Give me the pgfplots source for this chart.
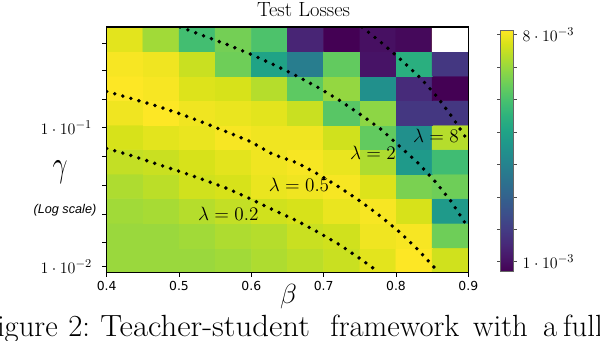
\documentclass[border=0pt]{standalone}
\usepackage{fontspec}
\usepackage{pgfplots}
\usepackage{pgfplotstable}
\pgfplotsset{compat=1.18}
\newfontfamily\dejavu{DejaVu Sans}
\newfontfamily\libsans{Liberation Sans}

% test loss per cell, in units of 1e-3; rows bottom to top, beta left to right
\pgfplotstableread{
x y c
0.425 -1.9521 7.03
0.475 -1.9521 7.03
0.525 -1.9521 7.03
0.575 -1.9521 7.11
0.625 -1.9521 7.25
0.675 -1.9521 7.40
0.725 -1.9521 7.55
0.775 -1.9521 7.85
0.825 -1.9521 8.15
0.875 -1.9521 7.63
0.425 -1.7757 7.03
0.475 -1.7757 7.03
0.525 -1.7757 7.11
0.575 -1.7757 7.25
0.625 -1.7757 7.33
0.675 -1.7757 7.55
0.725 -1.7757 7.63
0.775 -1.7757 8.00
0.825 -1.7757 8.08
0.875 -1.7757 6.51
0.425 -1.5992 7.11
0.475 -1.5992 7.18
0.525 -1.5992 7.33
0.575 -1.5992 7.48
0.625 -1.5992 7.63
0.675 -1.5992 7.70
0.725 -1.5992 7.93
0.775 -1.5992 8.08
0.825 -1.5992 7.70
0.875 -1.5992 4.72
0.425 -1.4228 7.25
0.475 -1.4228 7.40
0.525 -1.4228 7.63
0.575 -1.4228 7.70
0.625 -1.4228 7.93
0.675 -1.4228 8.00
0.725 -1.4228 8.08
0.775 -1.4228 7.78
0.825 -1.4228 6.66
0.875 -1.4228 6.51
0.425 -1.2464 7.48
0.475 -1.2464 7.55
0.525 -1.2464 7.70
0.575 -1.2464 7.85
0.625 -1.2464 8.00
0.675 -1.2464 8.08
0.725 -1.2464 7.93
0.775 -1.2464 7.25
0.825 -1.2464 4.72
0.875 -1.2464 5.84
0.425 -1.0699 7.70
0.475 -1.0699 7.85
0.525 -1.0699 7.93
0.575 -1.0699 8.08
0.625 -1.0699 8.00
0.675 -1.0699 8.00
0.725 -1.0699 7.63
0.775 -1.0699 6.36
0.825 -1.0699 4.42
0.875 -1.0699 7.33
0.425 -0.8935 8.00
0.475 -0.8935 8.15
0.525 -0.8935 8.00
0.575 -0.8935 7.93
0.625 -0.8935 7.85
0.675 -0.8935 7.55
0.725 -0.8935 6.21
0.775 -0.8935 6.88
0.825 -0.8935 1.88
0.875 -0.8935 1.88
0.425 -0.7171 8.15
0.475 -0.7171 8.08
0.525 -0.7171 7.78
0.575 -0.7171 7.70
0.625 -0.7171 7.33
0.675 -0.7171 6.29
0.725 -0.7171 6.96
0.775 -0.7171 4.42
0.825 -0.7171 1.59
0.875 -0.7171 0.69
0.425 -0.5406 8.08
0.475 -0.5406 8.00
0.525 -0.5406 7.55
0.575 -0.5406 6.51
0.625 -0.5406 5.02
0.675 -0.5406 3.82
0.725 -0.5406 6.36
0.775 -0.5406 1.06
0.825 -0.5406 5.39
0.875 -0.5406 1.88
0.425 -0.3642 7.85
0.475 -0.3642 7.11
0.525 -0.3642 5.91
0.575 -0.3642 6.58
0.625 -0.3642 6.06
0.675 -0.3642 1.44
0.725 -0.3642 0.69
0.775 -0.3642 0.99
0.825 -0.3642 0.84
0.875 -0.3642 8.15
}\losses

\pgfplotsset{lam/.style={black,no markers,line width=2.9pt,line cap=round,dash pattern=on 0pt off 6.28pt}}

\begin{document}
\begin{tikzpicture}
\begin{axis}[at={(0,0)},anchor=south west,scale only axis,width=271.2pt,height=184pt,
  xmin=0.4,xmax=0.9,ymin=-2.0403,ymax=-0.276,enlargelimits=false,axis on top,
  xtick={0.4,0.5,0.6,0.7,0.8,0.9},xticklabels={0.4,0.5,0.6,0.7,0.8,0.9},
  xticklabel style={font=\dejavu\fontsize{9.3}{10}\selectfont},
  ytick={-2,-1},yticklabels={$1\cdot10^{-2}$,$1\cdot10^{-1}$},
  minor ytick={-1.824,-1.621,-1.417,-1.209,-0.794,-0.590,-0.393},
  yticklabel style={font=\fontsize{12.5}{13}\selectfont,xshift=-4pt},
  tick pos=left,tick align=outside,major tick length=3.5pt,minor tick length=3.5pt,
  tick style={black,line width=0.6pt},
  axis line style={line width=0.8pt},
  colormap/viridis,point meta min=0.69,point meta max=8.15,
  colorbar,
  colorbar style={at={(parent axis.north east)},anchor=north west,xshift=15.75pt,yshift=-2.25pt,
    width=9.5pt,height=181.3pt,
    ytick={1,2,3,4,5,6,7,8},yticklabels={$1\cdot10^{-3}$,{},{},{},{},{},{},$8\cdot10^{-3}$},
    yticklabel style={font=\fontsize{12.5}{13}\selectfont,xshift=1pt},
    tick align=outside,major tick length=2.5pt,tick style={black!70,line width=0.5pt},
    axis line style={black!60,line width=0.5pt}},
]
\addplot[matrix plot*,mesh/cols=10,mesh/rows=10,point meta=explicit,draw=none,forget plot] table[x=x,y=y,meta=c] {\losses};
% missing run, left blank
\addplot[fill=white,draw=none,no markers,forget plot] coordinates {(0.85,-0.4524) (0.9,-0.4524) (0.9,-0.276) (0.85,-0.276)} --cycle;

% lambda = 8
\addplot[lam] coordinates {(0.7530,-0.276) (0.7825,-0.400) (0.8087,-0.520) (0.8342,-0.6446) (0.8571,-0.779) (0.8779,-0.925) (0.8968,-1.074) (0.9,-1.099)};
% lambda = 2
\addplot[lam] coordinates {(0.5014,-0.276) (0.5345,-0.3403) (0.5668,-0.4029) (0.5991,-0.4719) (0.6309,-0.5468) (0.6627,-0.628) (0.6926,-0.7122) (0.7226,-0.8058) (0.7512,-0.9065) (0.7793,-1.0115) (0.8056,-1.1367) (0.8309,-1.2561) (0.8544,-1.3885) (0.8761,-1.5295) (0.8950,-1.6806) (0.9,-1.7216)};
% lambda = 0.5
\addplot[lam] coordinates {(0.4,-0.7396) (0.4360,-0.7935) (0.4691,-0.8439) (0.5018,-0.9014) (0.5350,-0.9662) (0.5673,-1.0331) (0.5991,-1.1007) (0.6295,-1.1914) (0.6627,-1.2518) (0.6926,-1.3353) (0.7226,-1.4317) (0.7516,-1.5324) (0.7793,-1.6403) (0.8060,-1.7554) (0.8309,-1.8799) (0.8540,-2.0115) (0.8574,-2.0403)};
% lambda = 0.2
\addplot[lam] coordinates {(0.4,-1.1496) (0.4360,-1.2036) (0.4691,-1.2612) (0.5018,-1.3165) (0.5350,-1.3763) (0.5673,-1.4388) (0.5991,-1.5129) (0.6304,-1.5921) (0.6627,-1.6691) (0.6926,-1.7525) (0.7226,-1.8439) (0.7512,-1.9446) (0.7700,-2.0165) (0.7751,-2.0403)};

\node[font=\fontsize{15}{15}\selectfont] at (axis cs:0.8553,-1.06) {$\lambda=8$};
\node[font=\fontsize{15}{15}\selectfont] at (axis cs:0.7682,-1.182) {$\lambda=2$};
\node[font=\fontsize{15}{15}\selectfont] at (axis cs:0.6659,-1.412) {$\lambda=0.5$};
\node[font=\fontsize{15}{15}\selectfont] at (axis cs:0.5681,-1.621) {$\lambda=0.2$};
\end{axis}

\node[anchor=base,font=\fontsize{15.4}{16}\selectfont] at (147.6pt,191.5pt) {Test Losses};
\node at (-35pt,75.2pt) {\scalebox{0.8}[1.1]{\fontsize{44}{44}\selectfont$\gamma$}};
\node[font=\libsans\itshape\fontsize{9.5}{10}\selectfont] at (-31.3pt,46.7pt) {(Log scale)};
\node[font=\fontsize{19.4}{20}\selectfont] at (136.3pt,-18.2pt) {$\beta$};

\begin{scope}[every node/.style={inner sep=0pt,font=\fontsize{23}{25}\selectfont}]
\node[anchor=base east] at (-36.5pt,-48.5pt) {Figure};
\node[anchor=base west] at (-29pt,-48.5pt) {2:};
\node[anchor=base west] at (-5pt,-48.5pt) {\scalebox{1.07}[1]{Teacher-student}};
\node[anchor=base west] at (167.5pt,-48.5pt) {framework};
\node[anchor=base west] at (274.7pt,-48.5pt) {with};
\node[anchor=base west] at (327.2pt,-48.5pt) {a};
\node[anchor=base west] at (342.2pt,-48.5pt) {full};
\end{scope}

\pgfresetboundingbox
\useasboundingbox (-80.025pt,-50.775pt) rectangle (369.975pt,204.225pt);
\end{tikzpicture}
\end{document}
